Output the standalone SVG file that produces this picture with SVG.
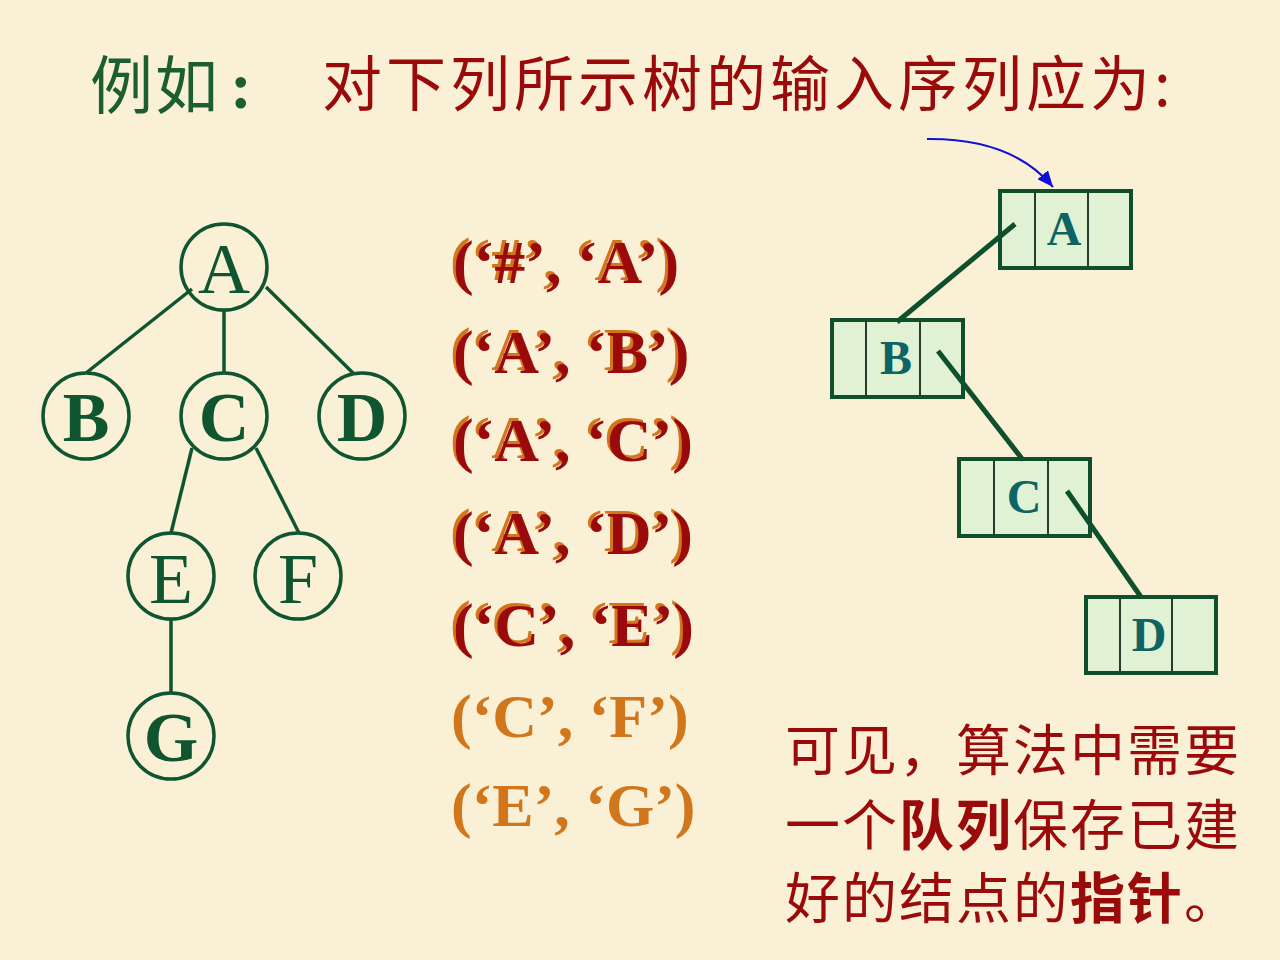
<svg xmlns="http://www.w3.org/2000/svg" width="1280" height="960" viewBox="0 0 1280 960">
  <defs>
    <style>
      .bg { fill: #FAF0D5; }
      .cjk { font-family: "Noto Sans CJK SC", "Noto Sans", sans-serif; }
      .tnode circle { fill: none; stroke: #0E5530; stroke-width: 3.5; }
      .tnode text { font-family: "Liberation Serif", "Times New Roman", serif; font-size: 72px; fill: #0E5530; text-anchor: middle; }
      .tnode text.b { font-weight: bold; font-size: 70px; }
      .tedge { stroke: #0E5530; stroke-width: 3.5; fill: none; }
      .tup { font-family: "Liberation Serif", "Times New Roman", serif; font-size: 62px; font-weight: bold; }
      .sh { fill: #D2761C; }
      .rd { fill: #9A0A0A; }
      .lnode rect.box { fill: #E0F1D4; stroke: #0E4F2C; stroke-width: 4; }
      .lnode line { stroke: #2A3A2A; stroke-width: 2; }
      .lnode text { font-family: "Liberation Serif", "Times New Roman", serif; font-size: 48px; font-weight: bold; fill: #0E6464; text-anchor: middle; }
      .ledge { stroke: #0E4F2C; stroke-width: 5; fill: none; }
    </style>
    <marker id="arr" markerWidth="16" markerHeight="14" refX="14" refY="6" orient="auto" markerUnits="userSpaceOnUse" viewBox="0 0 14 12">
      <path d="M0,0 L14,6 L0,12 z" fill="#1010D8"/>
    </marker>
  </defs>

  <rect class="bg" x="0" y="0" width="1280" height="960"/>

  <!-- Title -->
  <g id="title">
    <text class="cjk" x="90" y="108" font-size="63" fill="#1B5E30" letter-spacing="2">例如</text>
    <text x="230" y="108" font-family="Liberation Serif, serif" font-weight="bold" font-size="66" fill="#1B5E30">:</text>
    <text class="cjk" x="322" y="106" font-size="60" fill="#9A0A0A" letter-spacing="4">对下列所示树的输入序列应为:</text>
  </g>

  <!-- Tree connectors -->
  <g id="tree-edges">
    <line class="tedge" x1="192" y1="289" x2="86" y2="373"/>
    <line class="tedge" x1="224" y1="310" x2="224" y2="373"/>
    <line class="tedge" x1="266" y1="287" x2="354" y2="374"/>
    <line class="tedge" x1="192" y1="448" x2="171" y2="533"/>
    <line class="tedge" x1="256" y1="448" x2="299" y2="533"/>
    <line class="tedge" x1="171" y1="619" x2="171" y2="693"/>
  </g>

  <!-- Tree nodes -->
  <g id="tA" class="tnode"><circle cx="224" cy="267" r="43"/><text x="224" y="293">A</text></g>
  <g id="tB" class="tnode"><circle cx="86" cy="416" r="43"/><text class="b" x="86" y="441">B</text></g>
  <g id="tC" class="tnode"><circle cx="224" cy="416" r="43"/><text class="b" x="224" y="441">C</text></g>
  <g id="tD" class="tnode"><circle cx="362" cy="416" r="43"/><text class="b" x="362" y="441">D</text></g>
  <g id="tE" class="tnode"><circle cx="171" cy="576" r="43"/><text x="171" y="603">E</text></g>
  <g id="tF" class="tnode"><circle cx="298" cy="576" r="43"/><text x="298" y="603">F</text></g>
  <g id="tG" class="tnode"><circle cx="171" cy="736" r="43"/><text class="b" x="171" y="761">G</text></g>

  <!-- Input sequence -->
  <g id="sequence" class="tup">
    <text class="sh" x="450" y="280">(‘#’, ‘A’)</text>
    <text class="rd" x="453" y="283">(‘#’, ‘A’)</text>
    <text class="sh" x="450" y="370">(‘A’, ‘B’)</text>
    <text class="rd" x="453" y="373">(‘A’, ‘B’)</text>
    <text class="sh" x="450" y="458">(‘A’, ‘C’)</text>
    <text class="rd" x="453" y="461">(‘A’, ‘C’)</text>
    <text class="sh" x="450" y="551">(‘A’, ‘D’)</text>
    <text class="rd" x="453" y="554">(‘A’, ‘D’)</text>
    <text class="sh" x="450" y="643">(‘C’, ‘E’)</text>
    <text class="rd" x="453" y="646">(‘C’, ‘E’)</text>
    <text class="sh" x="451" y="737">(‘C’, ‘F’)</text>
    <text class="sh" x="451" y="826">(‘E’, ‘G’)</text>
  </g>

  <!-- Linked structure nodes -->
  <g id="lA" class="lnode">
    <rect class="box" x="1000" y="191" width="131" height="77"/>
    <line x1="1035" y1="191" x2="1035" y2="268"/><line x1="1088" y1="191" x2="1088" y2="268"/>
    <text x="1064" y="245">A</text>
  </g>
  <g id="lB" class="lnode">
    <rect class="box" x="832" y="320" width="131" height="77"/>
    <line x1="866" y1="320" x2="866" y2="397"/><line x1="920" y1="320" x2="920" y2="397"/>
    <text x="896" y="374">B</text>
  </g>
  <g id="lC" class="lnode">
    <rect class="box" x="959" y="459" width="131" height="77"/>
    <line x1="994" y1="459" x2="994" y2="536"/><line x1="1048" y1="459" x2="1048" y2="536"/>
    <text x="1024" y="513">C</text>
  </g>
  <g id="lD" class="lnode">
    <rect class="box" x="1086" y="597" width="130" height="76"/>
    <line x1="1120" y1="597" x2="1120" y2="673"/><line x1="1172" y1="597" x2="1172" y2="673"/>
    <text x="1149" y="651">D</text>
  </g>

  <!-- Linked structure connectors -->
  <g id="list-edges">
    <path d="M927,139 Q1012,138 1053,187" fill="none" stroke="#1010D8" stroke-width="2" marker-end="url(#arr)"/>
    <line class="ledge" x1="1015" y1="224" x2="897" y2="322"/>
    <line class="ledge" x1="938" y1="351" x2="1023" y2="460"/>
    <line class="ledge" x1="1067" y1="491" x2="1141" y2="597"/>
  </g>

  <!-- Note -->
  <g id="note" class="cjk" font-size="55" fill="#9A0A0A" letter-spacing="2">
    <text x="785" y="770">可见，算法中需要</text>
    <text x="785" y="845">一个<tspan font-weight="bold">队列</tspan>保存已建</text>
    <text x="785" y="918">好的结点的<tspan font-weight="bold">指针</tspan>。</text>
  </g>
</svg>
